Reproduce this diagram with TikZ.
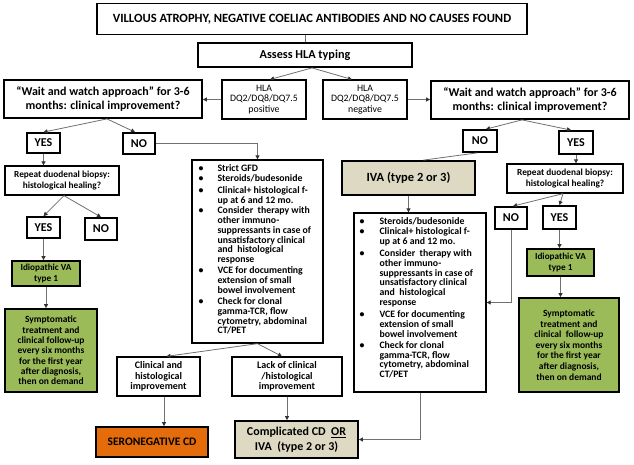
\documentclass[tikz,border=0pt]{standalone}
\usepackage{fontspec}
\setmainfont{Carlito}
\usetikzlibrary{arrows.meta}
\definecolor{vagreen}{HTML}{9BBB59}
\definecolor{vaorange}{HTML}{E46C0A}
\definecolor{vatan}{HTML}{DDD9C3}
\definecolor{conncol}{HTML}{707070}
\newcommand{\fsz}[2]{\fontsize{#1}{#2}\selectfont}
\begin{document}
\begin{tikzpicture}[x=1pt,y=-1pt,
  bxthick/.style={draw=black, line width=1.8pt, inner sep=0pt, align=center, fill=white},
  bxmed/.style={draw=black, line width=1.3pt, inner sep=0pt, align=center, fill=white},
  bxthin/.style={draw=black, line width=1.1pt, inner sep=0pt, align=center, fill=white},
  yn/.style={bxthick, font=\bfseries\fsz{12}{14}},
  conn/.style={draw=conncol, line width=0.8pt},
  arr/.style={conn, -{Triangle[length=4pt,width=4pt,color=black!80]}},
  listtxt/.style={anchor=north west, inner sep=0pt, font=\bfseries\fsz{9.8}{9.6}}
]
\fill[white] (0,0) rectangle (634,464);
\useasboundingbox (0,0) rectangle (634,464);

% top part
\node[bxthick, minimum width=430pt, minimum height=31pt, font=\bfseries\fsz{12.6}{14}] (top) at (312,19) {VILLOUS ATROPHY, NEGATIVE COELIAC ANTIBODIES AND NO CAUSES FOUND};
\node[bxthick, minimum width=214pt, minimum height=24pt, font=\bfseries\fsz{12.2}{14}] (assess) at (305,55) {Assess HLA typing};
\node[bxthin, minimum width=84pt, minimum height=39pt, font=\fsz{9.8}{10.3}] (hlapos) at (264,99.5) {HLA\\DQ2/DQ8/DQ7.5\\positive};
\node[bxthin, minimum width=84pt, minimum height=39pt, font=\fsz{9.8}{10.3}] (hlaneg) at (365,99.5) {HLA\\DQ2/DQ8/DQ7.5\\negative};
\node[bxthick, minimum width=198pt, minimum height=38pt, font=\bfseries\fsz{12}{14.5}] (waitL) at (103,99) {“Wait and watch approach” for 3-6\\months: clinical improvement?};
\node[bxthick, minimum width=198pt, minimum height=38pt, font=\bfseries\fsz{12}{14.5}] (waitR) at (530,100) {“Wait and watch approach” for 3-6\\months: clinical improvement?};

% left column
\node[yn, minimum width=33pt, minimum height=20pt] (yesL) at (43.5,143) {YES};
\node[yn, minimum width=32pt, minimum height=21pt] (noL) at (139,143.5) {NO};
\node[bxmed, minimum width=114pt, minimum height=29pt, font=\bfseries\fsz{9.3}{10.5}] (repL) at (62,180.5) {Repeat duodenal biopsy:\\histological healing?};
\node[yn, minimum width=33pt, minimum height=21pt] (yesL2) at (43.5,227.5) {YES};
\node[yn, minimum width=32pt, minimum height=22pt] (noL2) at (101,229) {NO};
\node[bxthick, fill=vagreen, minimum width=68pt, minimum height=25pt, font=\bfseries\fsz{9.2}{10.3}] (idioL) at (46,273.5) {Idiopathic VA\\type 1};
\node[bxthick, fill=vagreen, minimum width=92pt, minimum height=83pt, font=\bfseries\fsz{9.5}{10.3}] (symL) at (51,350.5) {Symptomatic\\treatment and\\clinical follow-up\\every six months\\for the first year\\after diagnosis,\\then on demand};

% middle column
\node[bxmed, minimum width=131pt, minimum height=183pt] (midL) at (257.5,251.5) {};
\node[listtxt] (midLtxt) at ([xshift=7pt,yshift=-5pt]midL.north west) {\begin{tabular}{@{}p{19pt}@{}l@{}}
\textbullet & Strict GFD\\
\textbullet & Steroids/budesonide\\[3pt]
\textbullet & Clinical+ histological f-\\
 & up at 6 and 12 mo.\\[0.5pt]
\textbullet & Consider\ \ therapy with\\
 & other immuno-\\
 & suppressants in case of\\
 & unsatisfactory clinical\\
 & and\ \ histological\\
 & response\\[1.5pt]
\textbullet & VCE for documenting\\
 & extension of small\\
 & bowel involvement\\[1.5pt]
\textbullet & Check for clonal\\
 & gamma-TCR, flow\\
 & cytometry, abdominal\\
 & CT/PET
\end{tabular}};
\node[bxmed, minimum width=83pt, minimum height=39pt, font=\bfseries\fsz{10}{10.5}] (clin) at (158.5,376.5) {Clinical and\\histological\\improvement};
\node[bxmed, minimum width=110pt, minimum height=39pt, font=\bfseries\fsz{10}{10.5}] (lack) at (287,376.5) {Lack of clinical\\/histological\\improvement};
\node[bxthick, fill=vaorange, minimum width=112pt, minimum height=30pt, font=\bfseries\fsz{11.5}{13}] (sero) at (152,442) {SERONEGATIVE CD};
\node[bxthick, fill=vatan, minimum width=123pt, minimum height=37pt, font=\bfseries\fsz{12}{15}] (comp) at (296.5,439.5) {Complicated CD\ \ \underline{OR}\\IVA\ \ (type 2 or 3)};

% right column
\node[yn, minimum width=34pt, minimum height=22pt] (noR) at (480,141) {NO};
\node[yn, minimum width=34pt, minimum height=23pt] (yesR) at (576,142.5) {YES};
\node[bxthick, fill=vatan, minimum width=133pt, minimum height=34pt, font=\bfseries\fsz{12.5}{14}] (iva) at (408.5,178) {IVA (type 2 or 3)};
\node[bxmed, minimum width=116pt, minimum height=29pt, font=\bfseries\fsz{9.3}{10.5}] (repR) at (565,178.5) {Repeat duodenal biopsy:\\histological healing?};
\node[yn, minimum width=32pt, minimum height=22pt] (noR2) at (511,218) {NO};
\node[yn, minimum width=33pt, minimum height=23pt] (yesR2) at (559.5,217.5) {YES};
\node[bxthick, fill=vagreen, minimum width=67pt, minimum height=27pt, font=\bfseries\fsz{9.2}{10.3}] (idioR) at (560.5,262.5) {Idiopathic VA\\type 1};
\node[bxthick, fill=vagreen, minimum width=100pt, minimum height=94pt, font=\bfseries\fsz{9.5}{10.6}] (symR) at (569,345) {Symptomatic\\treatment and\\clinical\ \ follow-up\\every six months\\for the first year\\after diagnosis,\\then on demand};
\node[bxmed, minimum width=132pt, minimum height=179pt] (midR) at (420,302.5) {};
\node[listtxt] (midRtxt) at ([xshift=6pt,yshift=-5pt]midR.north west) {\begin{tabular}{@{}p{20pt}@{}l@{}}
\textbullet & Steroids/budesonide\\[0.5pt]
\textbullet & Clinical+ histological f-\\
 & up at 6 and 12 mo.\\[2.5pt]
\textbullet & Consider\ \ therapy with\\
 & other immuno-\\
 & suppressants in case of\\
 & unsatisfactory clinical\\
 & and\ \ histological\\
 & response\\[2.5pt]
\textbullet & VCE for documenting\\
 & extension of small\\
 & bowel involvement\\[1.5pt]
\textbullet & Check for clonal\\
 & gamma-TCR, flow\\
 & cytometry, abdominal\\
 & CT/PET
\end{tabular}};

% connectors
\draw[conn] (assess.north) -- (assess.north |- top.south);
\coordinate (asplit) at ([xshift=7pt]assess.south);
\draw[arr] (asplit) -- ([xshift=6pt]hlapos.north);
\draw[arr] (asplit) -- ([xshift=-13pt]hlaneg.north);
\draw[arr] (hlapos.west) -- (hlapos.west -| waitL.east);
\draw[arr] (hlaneg.east) -- (hlaneg.east -| waitR.west);
\coordinate (wLs) at ([xshift=4pt]waitL.south);
\draw[arr] (wLs) -- (yesL.north);
\draw[arr] (wLs) -- ([xshift=-4pt]noL.north);
\draw[arr] (noL.east) -| (midL.north);
\draw[arr] (yesL.south) -- (yesL.south |- repL.north);
\coordinate (rLs) at ([xshift=2pt]repL.south);
\draw[arr] (rLs) -- (yesL2.north);
\draw[arr] (rLs) -- (noL2.north);
\draw[arr] (yesL2.south) -- (yesL2.south |- idioL.north);
\draw[arr] (idioL.south) -- (idioL.south |- symL.north);
\draw[arr] (midL.south) -- ([xshift=8pt]clin.north);
\draw[arr] (midL.south) -- ([xshift=-5pt]lack.north);
\draw[arr] ([xshift=5.5pt]clin.south) -- ([xshift=5.5pt]clin.south |- sero.north);
\draw[arr] (lack.south) -- (lack.south |- comp.north);
\coordinate (wRs) at ([xshift=-8pt]waitR.south);
\draw[arr] (wRs) -- ([xshift=6pt]noR.north);
\draw[arr] (wRs) -- ([xshift=-5pt]yesR.north);
\draw[conn] ([xshift=-3pt]noR.south) -- ([xshift=15pt]iva.north);
\draw[arr] (iva.south) -- (iva.south |- midR.north);
\draw[arr] (yesR.south) -- (yesR.south |- repR.north);
\coordinate (rRs) at ([xshift=-2pt]repR.south);
\draw[arr] (rRs) -- ([xshift=2pt]noR2.north);
\draw[arr] (rRs) -- (yesR2.north);
\draw[arr] (noR2.south) |- (midR.east);
\draw[arr] (yesR2.south) -- (yesR2.south |- idioR.north);
\draw[arr] (idioR.south) -- (idioR.south |- symR.north);
\draw[arr] (midR.south) |- (comp.east);
\end{tikzpicture}
\end{document}
